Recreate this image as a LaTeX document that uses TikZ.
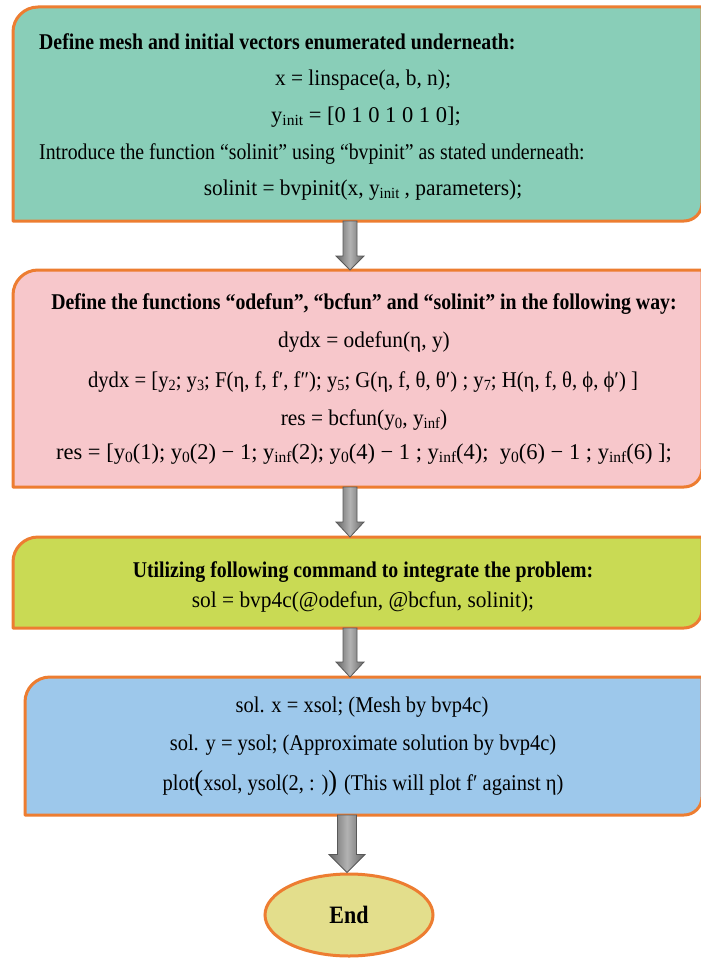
\documentclass[tikz,border=0pt]{standalone}
\usepackage{fontspec}
\setmainfont{Liberation Serif}[FakeStretch=0.88]
\newfontfamily\fA{Liberation Serif}[FakeStretch=0.92]
\newfontfamily\fB{Liberation Serif}[FakeStretch=0.95]
\newfontfamily\fC{Liberation Serif}[FakeStretch=1.0]
\newfontfamily\fD{Liberation Serif}[FakeStretch=0.91]
\usetikzlibrary{shapes.geometric,calc}
\definecolor{borange}{RGB}{237,125,49}
\definecolor{cteal}{RGB}{137,206,184}
\definecolor{cpink}{RGB}{247,199,203}
\definecolor{clime}{RGB}{201,218,84}
\definecolor{cblue}{RGB}{157,200,235}
\definecolor{cellip}{RGB}{227,222,140}
\newcommand\ix[1]{\raisebox{-0.3ex}{\fontsize{15.5}{15.5}\selectfont #1}}
\newcommand\bigparen[1]{{\fontsize{29}{29}\selectfont #1}}
\tikzset{
  frame/.style={inner sep=0pt, outer sep=0pt, draw=none, rectangle},
  boxline/.style={draw=borange, line width=3pt, line join=round},
  txt/.style={anchor=base, inner sep=0pt, font=\fontsize{22.5}{26}\selectfont},
  txtl/.style={txt, anchor=base west},
  ttl/.style={font=\fontsize{22.5}{26}\selectfont\bfseries},
  blk/.style={draw=black!65, line width=0.8pt, left color=black!60, right color=black!60, middle color=black!30},
  endnode/.style={ellipse, draw=borange, line width=3pt, fill=cellip, inner sep=0pt,
    minimum width=168pt, minimum height=82pt, font=\fontsize{25}{28}\selectfont\bfseries}
}
\newcommand\flowbox[2]{%
  \path[boxline, fill=#2] let \p1=(#1.north west), \p2=(#1.south east) in
    (\x1,{\y1-25pt}) arc[start angle=180,end angle=90,radius=25pt] -- (\x2,\y1)
    -- (\x2,{\y2+18pt}) arc[start angle=0,end angle=-90,radius=18pt] -- (\x1,\y2) -- cycle;}
\newcommand\blockarrow[5]{%
  \path[blk] let \p1=(#1), \p2=(#2) in
    ({\x1-#3},\y1) -- ({\x1+#3},\y1) -- ({\x1+#3},{\y2+#5}) -- ({\x1+#4},{\y2+#5})
    -- (\x1,\y2) -- ({\x1-#4},{\y2+#5}) -- ({\x1-#3},{\y2+#5}) -- cycle;}
\begin{document}
\begin{tikzpicture}[x=1pt,y=-1pt]
\fill[white] (0,0) rectangle (701,958);
\useasboundingbox (0,0) rectangle (701,958);
\coordinate (axis) at (350,0);
\coordinate (axisb) at (347,0);
% box frames
\node[frame, minimum width=689pt, minimum height=214pt] (b1) at (357.5,114) {};
\node[frame, minimum width=689pt, minimum height=217pt] (b2) at (357.5,378.5) {};
\node[frame, minimum width=689pt, minimum height=91pt] (b3) at (357.5,582.5) {};
\node[frame, minimum width=677pt, minimum height=138pt] (b4) at (363.5,746) {};
\flowbox{b1}{cteal}
\flowbox{b2}{cpink}
\flowbox{b3}{clime}
\flowbox{b4}{cblue}
\node[endnode] (end) at (349,915) {End};
% arrows
\blockarrow{b1.south -| axis}{b2.north -| axis}{7pt}{14pt}{14pt}
\blockarrow{b2.south -| axis}{b3.north -| axis}{7pt}{14pt}{15pt}
\blockarrow{b3.south -| axis}{b4.north -| axis}{7pt}{14pt}{15pt}
\blockarrow{b4.south -| axisb}{end.north -| axisb}{9.5pt}{18pt}{18pt}
% box 1 text
\node[txtl, ttl] (t1a) at (39,49) {Define mesh and initial vectors enumerated underneath:};
\node[txt] (t1b) at (363,85) {\fB x = linspace(a, b, n);};
\node[txt] (t1c) at (366,122) {\fC y\ix{init} = [0 1 0 1 0 1 0];};
\node[txtl] (t1d) at (39,159) {Introduce the function “solinit” using “bvpinit” as stated underneath:};
\node[txt] (t1e) at (363,195) {\fB solinit = bvpinit(x, y\ix{init} , parameters);};
% box 2 text
\node[txt, ttl] (t2a) at (364,309) {Define the functions “odefun”, “bcfun” and “solinit” in the following way:};
\node[txt] (t2b) at (364,347) {\fB dydx = odefun(η, y)};
\node[txt] (t2c) at (363,387) {\fA dydx = [y\ix{2}; y\ix{3}; F(η, f, f′, f″); y\ix{5}; G(η, f, θ, θ′) ; y\ix{7}; H(η, f, θ, ϕ, ϕ′) ]};
\node[txt] (t2d) at (364,425) {\fB res = bcfun(y\ix{0}, y\ix{inf})};
\node[txt] (t2e) at (364,459) {\fC res = [y\ix{0}(1); y\ix{0}(2) − 1; y\ix{inf}(2); y\ix{0}(4) − 1 ; y\ix{inf}(4);\ \ y\ix{0}(6) − 1 ; y\ix{inf}(6) ];};
% box 3 text
\node[txt, ttl] (t3a) at (363,577) {Utilizing following command to integrate the problem:};
\node[txt] (t3b) at (363,607) {\fB sol = bvp4c(@odefun, @bcfun, solinit);};
% box 4 text
\node[txt] (t4a) at (362,712) {\fD sol. x = xsol; (Mesh by bvp4c)};
\node[txt] (t4b) at (363,750) {\fD sol. y = ysol; (Approximate solution by bvp4c)};
\node[txt] (t4c) at (363,790) {\fD plot\bigparen{(}xsol, ysol(2, : )\bigparen{)} (This will plot f′ against η)};
\end{tikzpicture}
\end{document}
